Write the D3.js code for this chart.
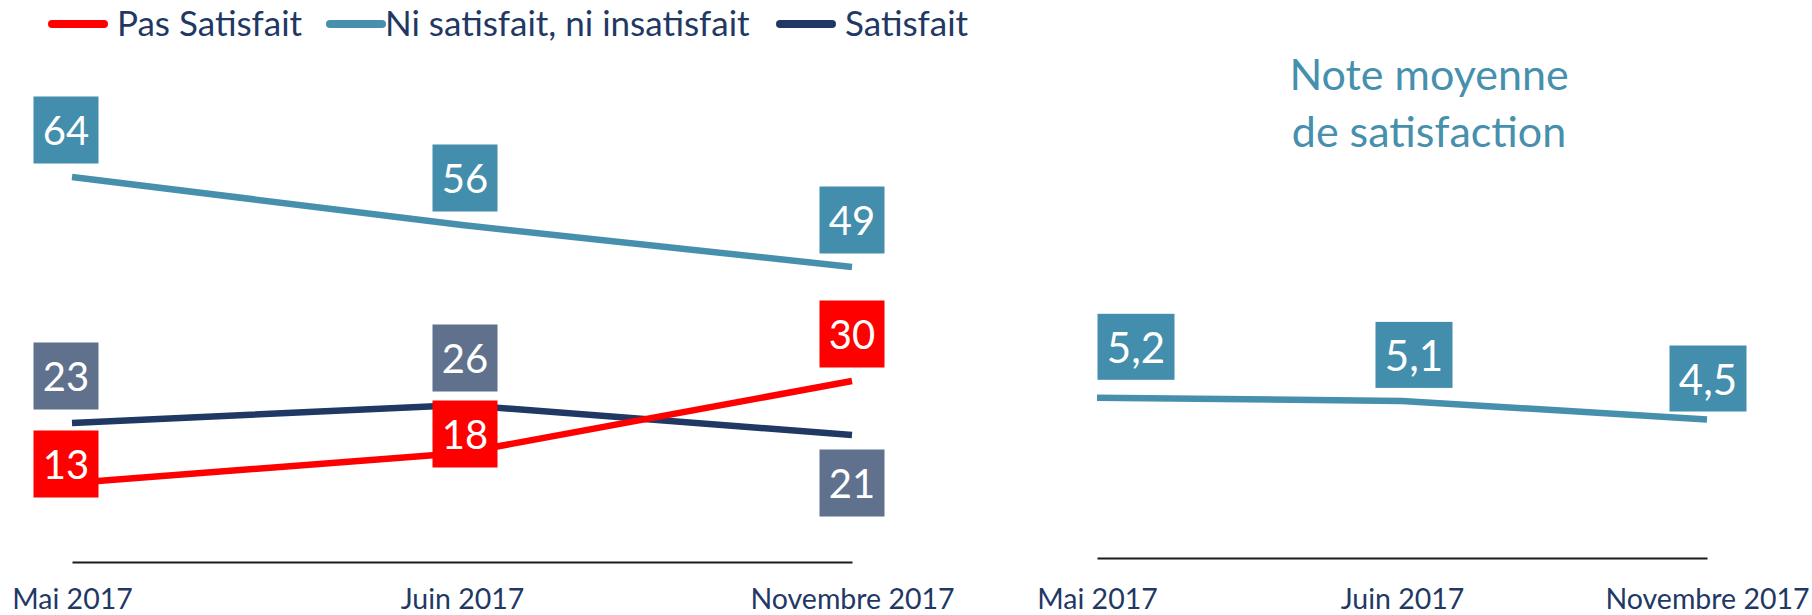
<!DOCTYPE html>
<html>
<head>
<meta charset="utf-8">
<script src="https://cdn.jsdelivr.net/npm/d3@7"></script>
<style>
  html, body { margin: 0; padding: 0; background: #fff; }
  svg { display: block; font-family: Lato, "Open Sans", sans-serif; }
</style>
</head>
<body>
<svg id="chart" width="1812" height="615"></svg>
<script>
// ---------- DATA ----------
const months = ["Mai 2017", "Juin 2017", "Novembre 2017"];
const seriesNames = ["Pas Satisfait", "Ni satisfait, ni insatisfait", "Satisfait"];
const pasSatisfait = [13, 18, 30];
const niSatisfait = [64, 56, 49];
const satisfait = [23, 26, 21];
const noteMoyenne = [5.2, 5.1, 4.5];
const noteTitle = ["Note moyenne", "de satisfaction"];

// ---------- STYLE ----------
const C = {
  red: "#FF0000", teal: "#4690AD", navy: "#1F3864",
  tealBox: "#438EAC", navyBox: "#5F718D", redBox: "#FF0000",
  text: "#1F3864", axis: "#1a1a1a"
};
// label offsets (vertical, relative to point) per series / per point
const ABOVE = -47, BELOW = 48, MID = -19;
const leftSeries = [
  { name: seriesNames[0], values: pasSatisfait, line: C.red,  box: C.redBox,  dy: [MID, MID, ABOVE] },
  { name: seriesNames[1], values: niSatisfait,  line: C.teal, box: C.tealBox, dy: [ABOVE, ABOVE, ABOVE] },
  { name: seriesNames[2], values: satisfait,    line: C.navy, box: C.navyBox, dy: [ABOVE, ABOVE, BELOW] }
];
const drawOrder = [1, 2, 0];

const svg = d3.select("#chart");

// ---------- LEFT CHART ----------
const xL = d3.scalePoint().domain(months).range([72, 852]);
const yL = d3.scaleLinear().domain([0, 80]).range([561, 81]);

// axis
const axL = svg.append("g").attr("transform", "translate(0,562)")
  .call(d3.axisBottom(xL).tickSize(0).tickSizeOuter(0).tickPadding(27));
axL.select(".domain").attr("stroke", C.axis).attr("stroke-width", 2);
axL.selectAll("text").attr("font-size", 28.5).attr("fill", C.text)
  .attr("font-family", "Lato, sans-serif");

const lineL = d3.line().x((d, i) => xL(months[i])).y(d => yL(d));

drawOrder.forEach(k => {
  const s = leftSeries[k];
  svg.append("path").datum(s.values)
    .attr("d", lineL).attr("fill", "none")
    .attr("stroke", s.line).attr("stroke-width", 6.5);
});

const boxW = 65, boxH = 67;
drawOrder.forEach(k => {
  const s = leftSeries[k];
  const g = svg.append("g");
  s.values.forEach((v, i) => {
    const cx = xL(months[i]) - (i === 0 ? 6 : 0) + (i === 1 ? 3 : 0);
    const cy = yL(v) + s.dy[i];
    g.append("rect").attr("x", cx - boxW / 2).attr("y", cy - boxH / 2)
      .attr("width", boxW).attr("height", boxH).attr("fill", s.box);
    g.append("text").attr("x", cx).attr("y", cy)
      .attr("text-anchor", "middle").attr("dominant-baseline", "central")
      .attr("font-size", 40).attr("fill", "#fff").text(d3.format("d")(v));
  });
});

// ---------- LEGEND ----------
const legendX = [50, 328, 778];
const legendColors = [C.red, C.teal, C.navy];
seriesNames.forEach((n, i) => {
  const g = svg.append("g").attr("transform", `translate(${legendX[i]},24)`);
  g.append("line").attr("x1", 2).attr("x2", 54).attr("y1", 0).attr("y2", 0)
    .attr("stroke", legendColors[i]).attr("stroke-width", 8).attr("stroke-linecap", "round");
  g.append("text").attr("x", i === 1 ? 57 : 67).attr("y", 12)
    .attr("font-size", 35).attr("fill", C.text).text(n);
});

// ---------- RIGHT CHART ----------
const xR = d3.scalePoint().domain(months).range([1097, 1707]);
const yR = d3.scaleLinear().domain([0, 10]).range([559, 249]);

const axR = svg.append("g").attr("transform", "translate(0,558)")
  .call(d3.axisBottom(xR).tickSize(0).tickSizeOuter(0).tickPadding(31));
axR.select(".domain").attr("stroke", C.axis).attr("stroke-width", 2);
axR.selectAll("text").attr("font-size", 28.5).attr("fill", C.text)
  .attr("font-family", "Lato, sans-serif");

svg.append("path").datum(noteMoyenne)
  .attr("d", d3.line().x((d, i) => xR(months[i])).y(d => yR(d)))
  .attr("fill", "none").attr("stroke", C.teal).attr("stroke-width", 6.5);

const rDx = [39, 12, 1], rDy = [-51, -46, -41];
const rBoxW = 77, rBoxH = 66;
const fmtR = v => d3.format(".1f")(v).replace(".", ",");
noteMoyenne.forEach((v, i) => {
  const cx = xR(months[i]) + rDx[i];
  const cy = yR(v) + rDy[i];
  svg.append("rect").attr("x", cx - rBoxW / 2).attr("y", cy - rBoxH / 2)
    .attr("width", rBoxW).attr("height", rBoxH).attr("fill", C.tealBox);
  svg.append("text").attr("x", cx).attr("y", cy)
    .attr("text-anchor", "middle").attr("dominant-baseline", "central")
    .attr("font-size", 42).attr("fill", "#fff").text(fmtR(v));
});

// title
noteTitle.forEach((t, i) => {
  svg.append("text").attr("x", 1429).attr("y", 90 + i * 57)
    .attr("text-anchor", "middle").attr("font-size", 43)
    .attr("fill", C.teal).text(t);
});
</script>
</body>
</html>
